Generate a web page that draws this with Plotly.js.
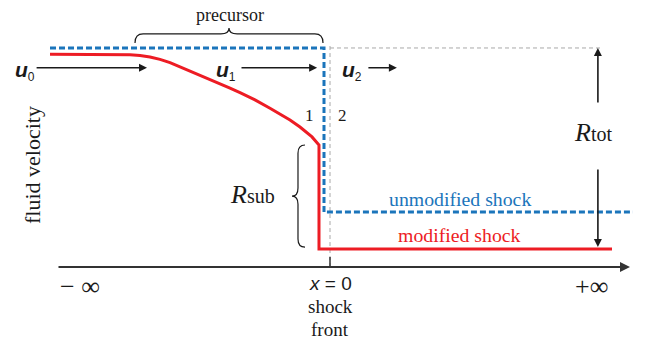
<!DOCTYPE html>
<html>
<head>
<meta charset="utf-8">
<script src="https://cdn.plot.ly/plotly-3.0.1.min.js"></script>
<style>
  html, body { margin: 0; padding: 0; background: #fff; }
  #chart { width: 654px; height: 347px; }
</style>
</head>
<body>
<div id="chart"></div>
<script>
// position along the flow, shock front at x = 0
// velocity normalised to the far upstream value u0 = 1

// modified shock (red): smooth precursor, then the subshock
const modX = [-9.333, -7.0, -6.667, -6.333, -6.0, -5.667, -5.333, -5.0, -4.667, -4.333, -4.0, -3.667, -3.333,
  -3.0, -2.5, -2.0, -1.667, -1.333, -1.0, -0.8, -0.6, -0.367, -0.367, 9.4];
const modY = [0.971, 0.970, 0.969, 0.966, 0.959, 0.948, 0.933, 0.914, 0.895, 0.876, 0.858, 0.838, 0.817,
  0.796, 0.763, 0.725, 0.699, 0.671, 0.639, 0.618, 0.594, 0.557, 0.082, 0.082];

// unmodified shock (blue dashed): a single jump
const unmodX = [-9.333, -0.2, -0.2, 10.1];
const unmodY = [1.0, 1.0, 0.251, 0.251];

// grey guides: shock front and far upstream level
const frontX = [0, 0];
const frontY = [0, 1.023];
const levelX = [0, 9.0];
const levelY = [1.0, 1.0];

const RED = '#ed1c24';
const BLUE = '#1b75bb';
const INK = '#1a1a1a';
const SERIF = 'Liberation Serif, Times New Roman, serif';
const SANS = 'Liberation Sans, Arial, sans-serif';

// curly brace, opening downwards
const hBrace = (x0, x1, yEnd, yLine, yTip, r) => {
  const xm = (x0 + x1) / 2;
  return `M${x0},${yEnd} Q${x0},${yLine} ${x0 + r},${yLine} L${xm - r},${yLine} ` +
    `Q${xm},${yLine} ${xm},${yTip} Q${xm},${yLine} ${xm + r},${yLine} ` +
    `L${x1 - r},${yLine} Q${x1},${yLine} ${x1},${yEnd}`;
};

// curly brace, opening to the right
const vBrace = (y0, y1, xEnd, xLine, xTip, r) => {
  const ym = (y0 + y1) / 2;
  return `M${xEnd},${y0} Q${xLine},${y0} ${xLine},${y0 - r} L${xLine},${ym + r} ` +
    `Q${xLine},${ym} ${xTip},${ym} Q${xLine},${ym} ${xLine},${ym - r} ` +
    `L${xLine},${y1 + r} Q${xLine},${y1} ${xEnd},${y1}`;
};

const traces = [
  {
    x: frontX, y: frontY, mode: 'lines', hoverinfo: 'skip',
    line: { color: '#a8a8a8', width: 1, dash: '4px,3px' }
  },
  {
    x: levelX, y: levelY, mode: 'lines', hoverinfo: 'skip',
    line: { color: '#a8a8a8', width: 1, dash: '4px,3px' }
  },
  {
    x: unmodX, y: unmodY, mode: 'lines', hoverinfo: 'skip',
    line: { color: BLUE, width: 3, dash: '6px,3px' }
  },
  {
    x: modX, y: modY, mode: 'lines', hoverinfo: 'skip',
    line: { color: RED, width: 3 }
  }
];

const arrow = (x, y, ax, ay, w, col) => ({
  x, y, ax, ay, xref: 'x', yref: 'y', axref: 'x', ayref: 'y',
  text: '', showarrow: true, arrowhead: 2, arrowsize: 1,
  arrowwidth: w, arrowcolor: col, standoff: 0, startstandoff: 0
});

const label = (x, y, text, size, opts = {}) => Object.assign({
  x, y, xref: 'x', yref: 'y', text, showarrow: false,
  font: { family: SERIF, size, color: INK }
}, opts);

const uLabel = (x, y, sub) => label(x, y,
  `<b><i>u</i></b><sub><span style="font-size:12px">${sub}</span></sub>`, 21,
  { xanchor: 'right', font: { family: SANS, size: 21, color: INK } });

const annotations = [
  // axis
  arrow(10.0, 0, -9.1, 0, 2, '#333'),
  // flow arrows
  arrow(-6.1, 0.91, -9.83, 0.91, 1.6, INK),
  arrow(-0.43, 0.91, -3.0, 0.91, 1.6, INK),
  arrow(2.23, 0.91, 1.23, 0.91, 1.6, INK),
  // compression ratio
  arrow(8.93, 1.0, 8.93, 0.744, 1.6, INK),
  arrow(8.93, 0.091, 8.93, 0.452, 1.6, INK),

  uLabel(-9.78, 0.895, '0'),
  uLabel(-3.08, 0.895, '1'),
  uLabel(1.12, 0.895, '2'),

  label(-3.33, 1.151, 'precursor', 18),
  label(-9.9, 0.466, 'fluid velocity', 22, { textangle: -90 }),
  label(-2.57, 0.329, '<i>R</i><span style="font-size:20px">sub</span>', 26),
  label(8.77, 0.612, '<i>R</i><span style="font-size:20px">tot</span>', 26),
  label(-0.7, 0.694, '1', 17),
  label(0.4, 0.694, '2', 17),
  label(4.33, 0.311, 'unmodified shock', 19.8, { font: { family: SERIF, size: 19.8, color: BLUE } }),
  label(4.3, 0.146, 'modified shock', 19.8, { font: { family: SERIF, size: 19.8, color: RED } }),
  label(-8.33, -0.091, '− ∞', 26),
  label(8.73, -0.091, '+∞', 26),
  label(0, -0.073, '<i>x</i> = 0', 19, { font: { family: SANS, size: 19, color: INK } }),
  label(0, -0.178, 'shock', 19),
  label(0, -0.283, 'front', 19)
];

const shapes = [
  {
    type: 'line', xref: 'x', yref: 'y', x0: 0, x1: 0, y0: 0, y1: 0.046,
    line: { color: '#333', width: 1.5 }
  },
  {
    type: 'path', xref: 'x', yref: 'y',
    path: hBrace(-6.5, -0.233, 1.023, 1.064, 1.091, 0.27),
    line: { color: INK, width: 1.2 }
  },
  {
    type: 'path', xref: 'x', yref: 'y',
    path: vBrace(0.557, 0.091, -0.833, -1.067, -1.267, 0.037),
    line: { color: INK, width: 1.2 }
  }
];

const layout = {
  width: 654,
  height: 347,
  margin: { l: 0, r: 0, t: 0, b: 0 },
  paper_bgcolor: '#fff',
  plot_bgcolor: '#fff',
  font: { family: SERIF, color: INK },
  showlegend: false,
  xaxis: { range: [-11, 10.8], visible: false, fixedrange: true },
  yaxis: { range: [-0.365, 1.219], visible: false, fixedrange: true },
  annotations,
  shapes
};

Plotly.newPlot('chart', traces, layout, { staticPlot: true });
</script>
</body>
</html>
